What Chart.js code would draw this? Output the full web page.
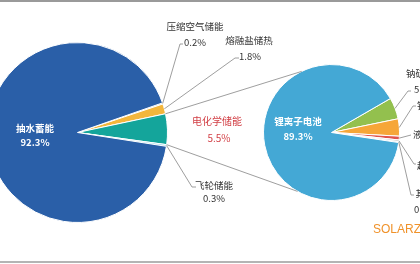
<!DOCTYPE html>
<html><head><meta charset="utf-8">
<script src="https://cdn.jsdelivr.net/npm/chart.js@4.4.0/dist/chart.umd.min.js"></script>
<style>
html,body{margin:0;padding:0;background:#fff;}
#wrap{position:relative;width:420px;height:264px;overflow:hidden;background:#fff;}
#c1{position:absolute;left:-13px;top:0;}
#c2{position:absolute;left:0;top:0;}
#tb{position:absolute;left:0;top:0;width:420px;height:2px;background:#9a9a9a;}
#bb{position:absolute;left:0;top:261px;width:420px;height:2px;background:#b4b4b4;}
</style></head><body>
<div id="wrap">
<canvas id="c1" width="433" height="264"></canvas>
<canvas id="c2" width="420" height="264"></canvas>
<div id="tb"></div><div id="bb"></div>
</div>
<script>
// ---- data ----
const storageTypes  = ['压缩空气储能','熔融盐储热','电化学储能','飞轮储能','抽水蓄能'];
const storageShares = [0.2, 1.8, 5.5, 0.3, 92.3];
const storageColors = ['#9cc65a','#f3b63c','#14a59b','#86d0e6','#2a5fa8'];

const batteryTypes  = ['钠硫电池','铅蓄电池','液流电池','超级电容','其他','锂离子电池'];
const batteryShares = [5.1, 4.1, 0.9, 0.4, 0.2, 89.3];
const batteryColors = ['#93c04e','#f6a638','#e0534b','#c9c9c9','#8a8a8a','#44a8d5'];

const pct = v => v.toFixed(1) + '%';
const CJK = '"Noto Sans CJK SC","Noto Sans",sans-serif';
const LEFT_SHIFT = -13; // left canvas offset on page

function pieOpts(padding, rotation){
  return {
    responsive:false, animation:false,
    rotation: rotation,
    layout:{padding: padding},
    plugins:{legend:{display:false}, tooltip:{enabled:false}},
    events:[]
  };
}

const chartL = new Chart(document.getElementById('c1'), {
  type:'pie',
  data:{labels:storageTypes, datasets:[{data:storageShares, backgroundColor:storageColors, borderColor:'#ffffff', borderWidth:1}]},
  options: pieOpts({left:0, right:252, top:42, bottom:41}, 70.8)
});

function arcPoint(arc, ang, dx, rr){
  const r = rr || arc.outerRadius;
  return {x: arc.x + r*Math.cos(ang) + dx, y: arc.y + r*Math.sin(ang)};
}
function midAngle(arc){ return (arc.startAngle + arc.endAngle)/2; }

const leftLabels = [
  {i:0, name:[195,26],  value:[195,42],  elbow:[180,44], end:[183,44]},
  {i:1, name:[249,40],  value:[250,56],  elbow:[235,58], end:[239,58]},
  {i:3, name:[214,185], value:[214,198], elbow:[192,187], end:[196,187]}
];
const rightLabels = [
  {i:0, name:[425,73],  value:[425,89],  elbow:[408,91],  end:[411,91]},
  {i:1, name:[436,105], value:[436,121], elbow:[413,106], end:[416,106]},
  {i:2, name:[432,134], value:[432,150], elbow:null,      end:[411,135]},
  {i:3, name:[436,165], value:[436,181], elbow:[414,164], end:[416,164]},
  {i:4, name:[425,193], value:[425,209], elbow:[411,195], end:[414,195]}
];

const overlay = {
  id:'overlay',
  afterDraw(chart){
    const ctx = chart.ctx;
    const L = chartL.getDatasetMeta(0).data;
    const R = chart.getDatasetMeta(0).data;
    ctx.save();
    ctx.strokeStyle = '#858585';
    ctx.lineWidth = 0.8;
    // connectors between pies
    const eArc = L[2];
    const rTop = R[0];
    const p1 = arcPoint(eArc, eArc.startAngle, LEFT_SHIFT);
    const p2 = arcPoint(eArc, eArc.endAngle, LEFT_SHIFT);
    const q1 = arcPoint(rTop, -116*Math.PI/180, 0);
    const q2 = arcPoint(rTop, 120*Math.PI/180, 0);
    ctx.beginPath(); ctx.moveTo(p1.x,p1.y); ctx.lineTo(q1.x,q1.y); ctx.stroke();
    ctx.beginPath(); ctx.moveTo(p2.x,p2.y); ctx.lineTo(q2.x,q2.y); ctx.stroke();
    // leaders
    function leader(arc, lab, dx){
      const p = arcPoint(arc, midAngle(arc), dx);
      ctx.beginPath(); ctx.moveTo(p.x,p.y);
      if(lab.elbow) ctx.lineTo(lab.elbow[0], lab.elbow[1]);
      ctx.lineTo(lab.end[0], lab.end[1]);
      ctx.stroke();
    }
    leftLabels.forEach(l => leader(L[l.i], l, LEFT_SHIFT));
    rightLabels.forEach(l => leader(R[l.i], l, 0));
    // texts
    ctx.textAlign = 'center'; ctx.textBaseline = 'middle';
    ctx.font = '9.5px ' + CJK;
    ctx.fillStyle = '#333333';
    leftLabels.forEach(l => {
      ctx.fillText(storageTypes[l.i], l.name[0], l.name[1]);
      ctx.fillText(pct(storageShares[l.i]), l.value[0], l.value[1]);
    });
    rightLabels.forEach(l => {
      ctx.fillText(batteryTypes[l.i], l.name[0], l.name[1]);
      ctx.fillText(pct(batteryShares[l.i]), l.value[0], l.value[1]);
    });
    // electrochemical (red)
    ctx.fillStyle = '#d23f45';
    ctx.font = '10px ' + CJK;
    ctx.fillText(storageTypes[2], 217, 121.5);
    ctx.fillText(pct(storageShares[2]), 219, 138.5);
    // inside labels
    ctx.fillStyle = '#ffffff';
    ctx.font = 'bold 9.5px ' + CJK;
    ctx.fillText(storageTypes[4], 35, 128);
    ctx.fillText(pct(storageShares[4]), 35, 142);
    ctx.fillText(batteryTypes[5], 298, 121.5);
    ctx.fillText(pct(batteryShares[5]), 298, 136.5);
    // brand
    ctx.textAlign = 'left';
    ctx.fillStyle = '#f0922a';
    ctx.font = '12px "Liberation Sans",Arial,sans-serif';
    ctx.fillText('SOLARZOOM', 373, 230);
    ctx.restore();
  }
};

const chartR = new Chart(document.getElementById('c2'), {
  type:'pie',
  data:{labels:batteryTypes, datasets:[{data:batteryShares, backgroundColor:batteryColors, borderColor:'#ffffff', borderWidth:1}]},
  options: pieOpts({left:263, right:20, top:64, bottom:63}, 60),
  plugins:[overlay]
});
</script>
</body></html>
